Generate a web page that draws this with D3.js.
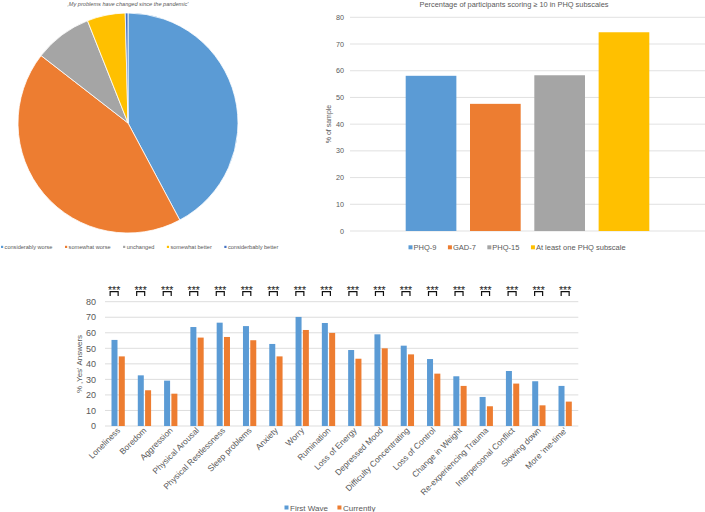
<!DOCTYPE html>
<html><head><meta charset="utf-8">
<script src="https://cdn.jsdelivr.net/npm/d3@7"></script>
<style>body{margin:0;background:#fff;} svg{display:block;font-family:Arial,"Liberation Sans",sans-serif;}</style>
</head><body><svg id="c" width="705" height="512"></svg>
<script>
// ---------- data ----------
const pieTitle = "\u201AMy problems have changed since the pandemic'";
const pieLabels = ["considerably worse","somewhat worse","unchanged","somewhat better","considerbably better"];
const pieValues = [42.2, 43.3, 8.5, 5.6, 0.4];
const pieColors = ["#5B9BD5","#ED7D31","#A5A5A5","#FFC000","#4472C4"];

const phqTitle = "Percentage of participants scoring \u2265 10 in PHQ subscales";
const phqLabels = ["PHQ-9","GAD-7","PHQ-15","At least one PHQ subscale"];
const phqValues = [58.1, 47.6, 58.3, 74.4];
const phqColors = ["#5B9BD5","#ED7D31","#A5A5A5","#FFC000"];
const phqTicks = [0,10,20,30,40,50,60,70,80];
const phqYTitle = "% of sample";

const symptoms = ["Loneliness","Boredom","Aggression","Physical Arousal","Physical Restlessness","Sleep problems","Anxiety","Worry","Rumination","Loss of Energy","Depressed Mood","Difficulty Concentrating","Loss of Control","Change in Weight","Re-experiencing Trauma","Interpersonal Conflict","Slowing down","More 'me-time'"];
const firstWave = [55.4, 32.6, 29.2, 63.7, 66.5, 64.3, 52.8, 70.2, 66.3, 48.9, 59.0, 51.7, 43.1, 32.0, 18.7, 35.4, 28.8, 25.8];
const currently = [44.8, 23.0, 20.8, 56.9, 57.3, 55.2, 44.8, 61.8, 59.9, 43.3, 50.0, 46.1, 33.7, 25.8, 12.7, 27.3, 13.3, 15.7];
const significance = ["***","***","***","***","***","***","***","***","***","***","***","***","***","***","***","***","***","***"];
const seriesNames = ["First Wave","Currently"];
const seriesColors = ["#5B9BD5","#ED7D31"];
const symTicks = [0,10,20,30,40,50,60,70,80];
const symYTitle = "% \u201AYes' Answers";

const svg = d3.select("#c");
const textGray = "#595959";
const gridGray = "#D9D9D9";

// ---------- pie ----------
{
  const g = svg.append("g").attr("transform","translate(128,123)");
  const pie = d3.pie().sort(null).value(d=>d);
  const arc = d3.arc().innerRadius(0).outerRadius(110);
  g.selectAll("path").data(pie(pieValues)).join("path")
    .attr("d", arc).attr("fill",(d,i)=>pieColors[i])
    .attr("stroke","#fff").attr("stroke-width",0.8);
  svg.append("text").attr("x",128).attr("y",5.5).attr("text-anchor","middle")
    .attr("font-size",5.6).attr("font-style","italic").attr("fill",textGray).text(pieTitle);
  // legend
  const lg = svg.append("g");
  let x = 1;
  pieLabels.forEach((lab,i)=>{
    lg.append("rect").attr("x",x).attr("y",245.8).attr("width",2.2).attr("height",2.2).attr("fill",pieColors[i]);
    const t = lg.append("text").attr("x",x+3.6).attr("y",249).attr("font-size",5.6).attr("fill",textGray).text(lab);
    x = x + 3.6 + t.node().getComputedTextLength() + 12.5;
  });
}

// ---------- PHQ bars ----------
{
  const y = d3.scaleLinear().domain([0,80]).range([231,17.3]);
  const x = d3.scaleBand().domain(phqLabels).range([350,705]).paddingInner(0.212).paddingOuter(0.866);
  const g = svg.append("g");
  g.selectAll("line.grid").data(phqTicks).join("line").attr("class","grid")
    .attr("x1",350).attr("x2",705).attr("y1",d=>y(d)).attr("y2",d=>y(d))
    .attr("stroke",gridGray).attr("stroke-width",0.8);
  g.selectAll("text.tick").data(phqTicks).join("text").attr("class","tick")
    .attr("x",344).attr("y",d=>y(d)+2.5).attr("text-anchor","end")
    .attr("font-size",7.2).attr("fill",textGray).text(d=>d);
  g.selectAll("rect.bar").data(phqValues).join("rect").attr("class","bar")
    .attr("x",(d,i)=>x(phqLabels[i])).attr("width",x.bandwidth())
    .attr("y",d=>y(d)).attr("height",d=>y(0)-y(d))
    .attr("fill",(d,i)=>phqColors[i]);
  svg.append("text").attr("x",514).attr("y",6.5).attr("text-anchor","middle")
    .attr("font-size",7.4).attr("fill",textGray).text(phqTitle);
  svg.append("text").attr("transform","translate(330.5,124) rotate(-90)").attr("text-anchor","middle")
    .attr("font-size",7).attr("fill",textGray).text(phqYTitle);
  let lx = 408.5;
  phqLabels.forEach((lab,i)=>{
    g.append("rect").attr("x",lx).attr("y",245.3).attr("width",4).attr("height",4).attr("fill",phqColors[i]);
    const t = g.append("text").attr("x",lx+5).attr("y",250).attr("font-size",7.5).attr("fill",textGray).text(lab);
    lx = lx + 5 + t.node().getComputedTextLength() + 11.5;
  });
}

// ---------- symptom grouped bars ----------
{
  const y = d3.scaleLinear().domain([0,80]).range([426,301.7]);
  const x = d3.scaleBand().domain(symptoms).range([105,578.3]);
  const xi = d3.scaleBand().domain(seriesNames).range([0,x.bandwidth()]).paddingInner(0.178).paddingOuter(0.89);
  const g = svg.append("g");
  g.selectAll("line.grid").data(symTicks).join("line").attr("class","grid")
    .attr("x1",105).attr("x2",578.3).attr("y1",d=>y(d)).attr("y2",d=>y(d))
    .attr("stroke",gridGray).attr("stroke-width",0.9);
  g.selectAll("text.tick").data(symTicks).join("text").attr("class","tick")
    .attr("x",96).attr("y",d=>y(d)+3.2).attr("text-anchor","end")
    .attr("font-size",9).attr("fill",textGray).text(d=>d);
  const series = [firstWave, currently];
  series.forEach((vals,si)=>{
    g.selectAll("rect.s"+si).data(vals).join("rect").attr("class","s"+si)
      .attr("x",(d,i)=>x(symptoms[i])+xi(seriesNames[si])).attr("width",xi.bandwidth())
      .attr("y",d=>y(d)).attr("height",d=>y(0)-y(d)).attr("fill",seriesColors[si]);
  });
  // x labels
  g.selectAll("text.xl").data(symptoms).join("text").attr("class","xl")
    .attr("transform",d=>`translate(${x(d)+x.bandwidth()/2+2.5},${431}) rotate(-45)`)
    .attr("text-anchor","end").attr("font-size",8.4).attr("fill",textGray).text(d=>d);
  // significance brackets
  const xa = d3.scalePoint().domain(symptoms)
    .range([x(symptoms[0])+x.bandwidth()/2-4, x(symptoms[symptoms.length-1])+x.bandwidth()/2]);
  g.selectAll("text.sig").data(significance).join("text").attr("class","sig")
    .attr("x",(d,i)=>xa(symptoms[i])).attr("y",293.8).attr("text-anchor","middle")
    .attr("font-size",10.5).attr("fill","#222").text(d=>d);
  g.selectAll("path.br").data(symptoms).join("path").attr("class","br")
    .attr("d",d=>{const c=xa(d); return `M${c-4},296 V291.7 H${c+4} V296`;})
    .attr("fill","none").attr("stroke","#111").attr("stroke-width",1.2);
  svg.append("text").attr("transform","translate(82,364) rotate(-90)").attr("text-anchor","middle")
    .attr("font-size",8).attr("fill",textGray).text(symYTitle);
  let lx = 284.5;
  seriesNames.forEach((lab,i)=>{
    g.append("rect").attr("x",lx).attr("y",505.5).attr("width",4).attr("height",4).attr("fill",seriesColors[i]);
    const t = g.append("text").attr("x",lx+5.5).attr("y",510.5).attr("font-size",8).attr("fill",textGray).text(lab);
    lx = lx + 5.5 + t.node().getComputedTextLength() + 9.5;
  });
}
</script></body></html>
